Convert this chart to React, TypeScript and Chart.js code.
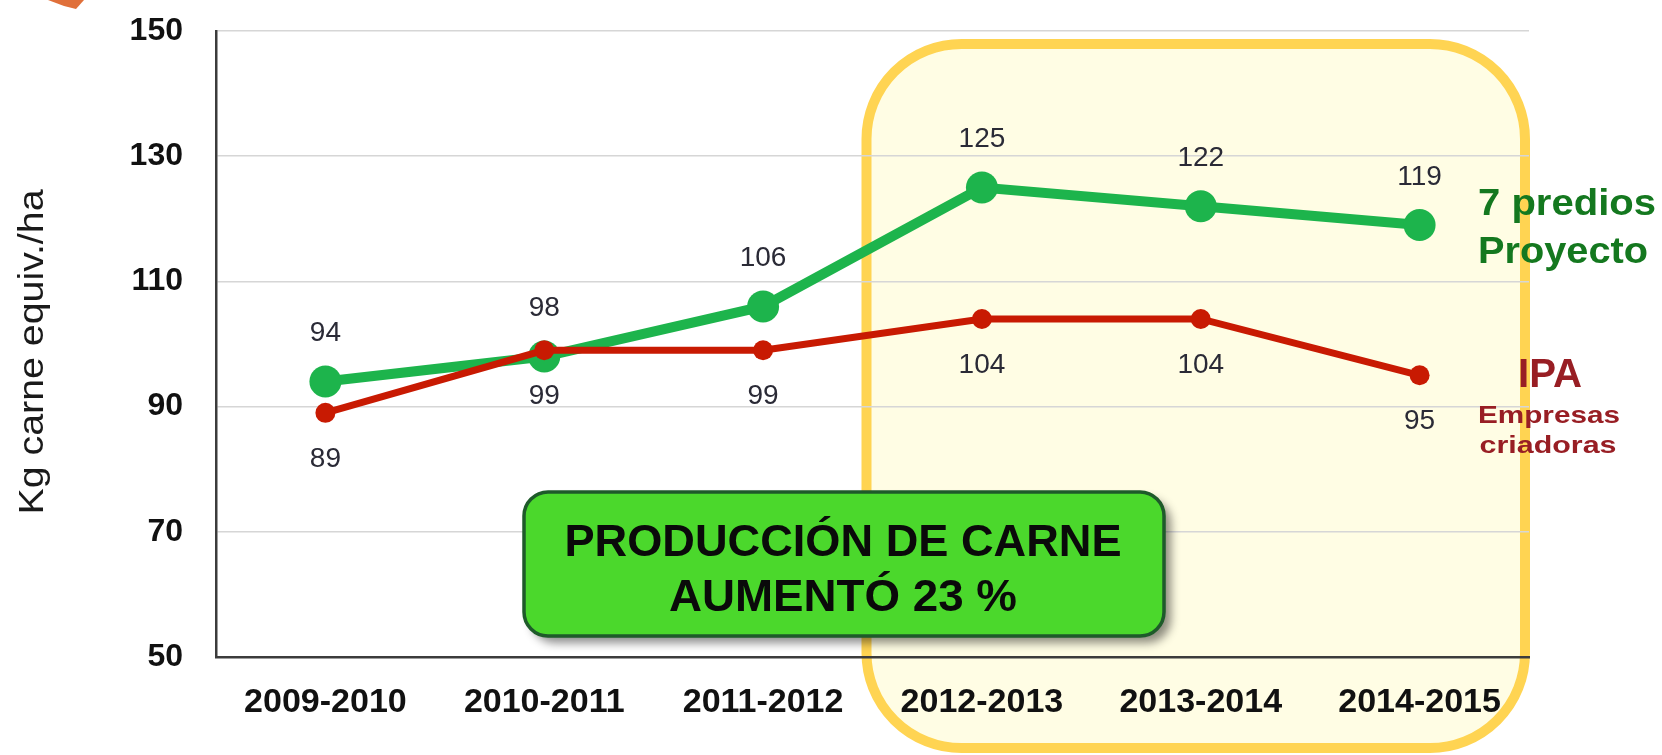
import React, { useEffect, useRef } from "react";
import { Chart, registerables } from "chart.js";

Chart.register(...registerables);

const categories = ["2009-2010", "2010-2011", "2011-2012", "2012-2013", "2013-2014", "2014-2015"];
const proyectoValues = [94, 98, 106, 125, 122, 119];
const ipaValues = [89, 99, 99, 104, 104, 95];
const yTicks = [50, 70, 90, 110, 130, 150];

const FONT = '"Liberation Sans", Arial, sans-serif';

function drawText(
  ctx: CanvasRenderingContext2D,
  text: string,
  x: number,
  y: number,
  font: string,
  color: string,
  targetW: number | null,
  align: CanvasTextAlign = "left"
) {
  ctx.save();
  ctx.font = font;
  const w = ctx.measureText(text).width;
  const sx = targetW ? targetW / w : 1;
  ctx.translate(x, y);
  ctx.scale(sx, 1);
  ctx.textAlign = align;
  ctx.textBaseline = "alphabetic";
  ctx.fillStyle = color;
  ctx.fillText(text, 0, 0);
  ctx.restore();
}

function roundRect(ctx: CanvasRenderingContext2D, x: number, y: number, w: number, h: number, r: number) {
  ctx.beginPath();
  ctx.moveTo(x + r, y);
  ctx.lineTo(x + w - r, y);
  ctx.arcTo(x + w, y, x + w, y + r, r);
  ctx.lineTo(x + w, y + h - r);
  ctx.arcTo(x + w, y + h, x + w - r, y + h, r);
  ctx.lineTo(x + r, y + h);
  ctx.arcTo(x, y + h, x, y + h - r, r);
  ctx.lineTo(x, y + r);
  ctx.arcTo(x, y, x + r, y, r);
  ctx.closePath();
}

const backgroundPlugin = {
  id: "bgDecor",
  beforeDraw(chart: any) {
    const ctx: CanvasRenderingContext2D = chart.ctx;
    const xs = chart.scales.x;
    const band = xs.getPixelForTick(1) - xs.getPixelForTick(0);
    const left = xs.getPixelForTick(3) - band / 2 - 6;
    const right = chart.chartArea.right - 4;
    ctx.save();
    ctx.fillStyle = "#ffffff";
    ctx.fillRect(0, 0, chart.width, chart.height);
    // highlight box
    roundRect(ctx, left, 44, right - left, 748 - 44, 95);
    ctx.fillStyle = "#fffde4";
    ctx.fill();
    ctx.lineWidth = 10;
    ctx.strokeStyle = "#ffd452";
    ctx.stroke();
    // small decoration at top-left
    ctx.beginPath();
    ctx.moveTo(48, 0);
    ctx.lineTo(84, 0);
    ctx.lineTo(76, 9);
    ctx.lineTo(64, 6);
    ctx.closePath();
    ctx.fillStyle = "#e0703a";
    ctx.fill();
    ctx.restore();
  },
};

const labelsPlugin = {
  id: "valueLabels",
  afterDatasetsDraw(chart: any) {
    const ctx: CanvasRenderingContext2D = chart.ctx;
    ctx.save();
    ctx.font = `28px ${FONT}`;
    ctx.fillStyle = "#2a2a36";
    ctx.textAlign = "center";
    ctx.textBaseline = "middle";
    chart.data.datasets.forEach((ds: any, di: number) => {
      const meta = chart.getDatasetMeta(di);
      const off = ds.labelOffset as number;
      meta.data.forEach((pt: any, i: number) => {
        ctx.fillText(String(ds.data[i]), pt.x, pt.y + off);
      });
    });
    ctx.restore();
  },
};

const annotationPlugin = {
  id: "annotations",
  afterDraw(chart: any) {
    const ctx: CanvasRenderingContext2D = chart.ctx;
    // y axis title
    ctx.save();
    ctx.translate(31, 352);
    ctx.rotate(-Math.PI / 2);
    drawText(ctx, "Kg carne equiv./ha", 0, 12, `35px ${FONT}`, "#1a1a1a", 325, "center");
    ctx.restore();

    // green message box
    ctx.save();
    ctx.shadowColor = "rgba(0,0,0,0.45)";
    ctx.shadowBlur = 10;
    ctx.shadowOffsetX = 7;
    ctx.shadowOffsetY = 7;
    roundRect(ctx, 524, 492, 640, 144, 24);
    ctx.fillStyle = "#4bd82c";
    ctx.fill();
    ctx.restore();
    ctx.save();
    roundRect(ctx, 524, 492, 640, 144, 24);
    ctx.lineWidth = 3.5;
    ctx.strokeStyle = "#1e5a2a";
    ctx.stroke();
    ctx.restore();
    drawText(ctx, "PRODUCCIÓN DE CARNE", 843, 556, `bold 44px ${FONT}`, "#0a0a0a", 557, "center");
    drawText(ctx, "AUMENTÓ 23 %", 843, 611, `bold 44px ${FONT}`, "#0a0a0a", 348, "center");

    // series legends
    drawText(ctx, "7 predios", 1478, 215, `bold 37px ${FONT}`, "#14781f", 178);
    drawText(ctx, "Proyecto", 1478, 263, `bold 36px ${FONT}`, "#14781f", 170);
    drawText(ctx, "IPA", 1550, 387, `bold 40px ${FONT}`, "#981e24", 64, "center");
    drawText(ctx, "Empresas", 1549, 423, `bold 24px ${FONT}`, "#981e24", 142, "center");
    drawText(ctx, "criadoras", 1548, 453, `bold 24px ${FONT}`, "#981e24", 137, "center");
  },
};

export default function App() {
  const ref = useRef<HTMLCanvasElement | null>(null);

  useEffect(() => {
    document.body.style.margin = "0";
    document.body.style.overflow = "hidden";
    const canvas = ref.current;
    if (!canvas) return;
    const chart = new Chart(canvas, {
      type: "line",
      data: {
        labels: categories,
        datasets: [
          {
            label: "IPA Empresas criadoras",
            data: ipaValues,
            borderColor: "#c81a02",
            backgroundColor: "#c81a02",
            borderWidth: 7,
            pointRadius: 10,
            pointHoverRadius: 10,
            pointBorderWidth: 0,
            tension: 0,
            labelOffset: 46,
          } as any,
          {
            label: "7 predios Proyecto",
            data: proyectoValues,
            borderColor: "#1db44c",
            backgroundColor: "#1db44c",
            borderWidth: 10,
            pointRadius: 16,
            pointHoverRadius: 16,
            pointBorderWidth: 0,
            tension: 0,
            labelOffset: -48,
          } as any,
        ],
      },
      options: {
        responsive: false,
        animation: false,
        devicePixelRatio: 1,
        layout: { padding: { left: 0, right: 133, top: 31, bottom: 0 } },
        plugins: {
          legend: { display: false },
          tooltip: { enabled: false },
        },
        scales: {
          x: {
            offset: true,
            grid: { display: false, drawTicks: false },
            border: { display: true, color: "#3c3c3c", width: 2.5 },
            ticks: {
              padding: 25,
              color: "#111111",
              font: { family: FONT, size: 34, weight: "bold" },
              maxRotation: 0,
            },
            afterFit: (scale: any) => {
              scale.height = 98;
              scale.paddingLeft = 0;
              scale.paddingRight = 0;
            },
          },
          y: {
            min: 50,
            max: 150,
            afterBuildTicks: (scale: any) => {
              scale.ticks = yTicks.map((v) => ({ value: v }));
            },
            grid: { color: "#d6d6d6", lineWidth: 1.5, drawTicks: false },
            border: { display: true, color: "#3c3c3c", width: 2.5 },
            ticks: {
              padding: 33,
              color: "#111111",
              font: { family: FONT, size: 32, weight: "bold" },
            },
            afterFit: (scale: any) => {
              scale.width = 216;
              scale.paddingTop = 0;
              scale.paddingBottom = 0;
            },
          },
        },
      },
      plugins: [backgroundPlugin, labelsPlugin, annotationPlugin],
    });
    return () => chart.destroy();
  }, []);

  return (
    <div style={{ width: 1662, height: 755 }}>
      <canvas ref={ref} width={1662} height={755} style={{ display: "block" }} />
    </div>
  );
}
